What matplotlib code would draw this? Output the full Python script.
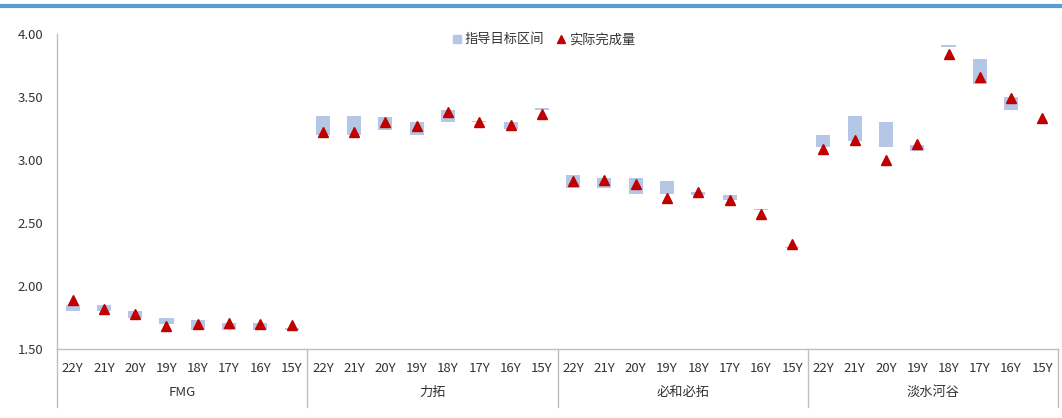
import numpy as np
import matplotlib
matplotlib.use('Agg')
import matplotlib.pyplot as plt
from matplotlib.lines import Line2D

plt.rcParams['font.family'] = ['Noto Sans CJK SC', 'DejaVu Sans']

groups = ['FMG', '力拓', '必和必拓', '淡水河谷']
years = ['22Y', '21Y', '20Y', '19Y', '18Y', '17Y', '16Y', '15Y']

# guidance range (low / high) and actual output, per group
fmg_lo = [1.80, 1.80, 1.75, 1.70, 1.65, 1.65, 1.65, 1.65]
fmg_hi = [1.85, 1.85, 1.80, 1.75, 1.73, 1.71, 1.71, 1.67]
fmg_act = [1.89, 1.82, 1.78, 1.68, 1.70, 1.71, 1.70, 1.69]

rio_lo = [3.20, 3.20, 3.24, 3.20, 3.30, 3.30, 3.25, 3.40]
rio_hi = [3.35, 3.35, 3.34, 3.30, 3.40, 3.31, 3.30, 3.41]
rio_act = [3.22, 3.22, 3.30, 3.27, 3.38, 3.30, 3.275, 3.365]

bhp_lo = [2.78, 2.78, 2.73, 2.73, 2.72, 2.68, 2.60, 2.30]
bhp_hi = [2.88, 2.86, 2.86, 2.83, 2.745, 2.725, 2.61, 2.31]
bhp_act = [2.83, 2.84, 2.81, 2.70, 2.75, 2.68, 2.57, 2.33]

vale_lo = [3.10, 3.15, 3.10, 3.07, 3.90, 3.60, 3.40, np.nan]
vale_hi = [3.20, 3.35, 3.30, 3.12, 3.91, 3.80, 3.50, np.nan]
vale_act = [3.085, 3.16, 3.00, 3.125, 3.84, 3.66, 3.49, 3.33]

lo = np.array(fmg_lo + rio_lo + bhp_lo + vale_lo)
hi = np.array(fmg_hi + rio_hi + bhp_hi + vale_hi)
act = np.array(fmg_act + rio_act + bhp_act + vale_act)
labels = years * len(groups)
x = np.arange(len(labels))

W, H = 1062, 418
fig = plt.figure(figsize=(W / 100, H / 100), dpi=100)
ax = fig.add_axes([57 / W, (H - 349) / H, (1058 - 57) / W, (349 - 34) / H])

gray = '#BFBFBF'
txt = '#333333'

ax.bar(x, hi - lo, bottom=lo, width=0.45, color='#B4C7E7', zorder=2)
ax.plot(x, act, linestyle='none', marker='^', markersize=6.5, color='#C00000', zorder=3)

ax.set_xlim(-0.5, len(labels) - 0.5)
ax.set_ylim(1.5, 4.0)
yt = [1.5, 2.0, 2.5, 3.0, 3.5, 4.0]
ax.set_yticks(yt)
ax.set_yticklabels([f'{v:.2f}' for v in yt], fontsize=9.5, color=txt)
ax.set_xticks(x)
ax.set_xticklabels(labels, fontsize=9.5, color=txt)
ax.tick_params(axis='x', length=0, pad=9)
ax.tick_params(axis='y', length=0, pad=10)

for s in ['top', 'right']:
    ax.spines[s].set_visible(False)
for s in ['left', 'bottom']:
    ax.spines[s].set_color(gray)
    ax.spines[s].set_linewidth(1.0)

# group separators and labels under the axis
low = -(407 - 349) / (349 - 34)
for b in [-0.5, 7.5, 15.5, 23.5, 31.5]:
    ax.plot([b, b], [0, low], transform=ax.get_xaxis_transform(), color=gray,
            lw=1.0, clip_on=False)
for i, g in enumerate(groups):
    ax.text(i * 8 + 3.5, -(392 - 349) / (349 - 34), g, transform=ax.get_xaxis_transform(),
            ha='center', va='center', fontsize=9.5, color=txt)

handles = [
    Line2D([], [], linestyle='none', marker='s', markersize=6, color='#B4C7E7'),
    Line2D([], [], linestyle='none', marker='^', markersize=6, color='#C00000'),
]
ax.legend(handles, ['指导目标区间', '实际完成量'], loc='upper center', ncol=2,
          bbox_to_anchor=(0.4865, 1.04), frameon=False, fontsize=9.5,
          handlelength=0.6, handletextpad=0.3, columnspacing=1.0, labelcolor=txt)

# blue rule across the top
fig.add_artist(Line2D([0, 1], [1 - 5.5 / H, 1 - 5.5 / H], transform=fig.transFigure,
                      color='#5B9BD5', lw=3))

fig.savefig('out.png', dpi=100)
